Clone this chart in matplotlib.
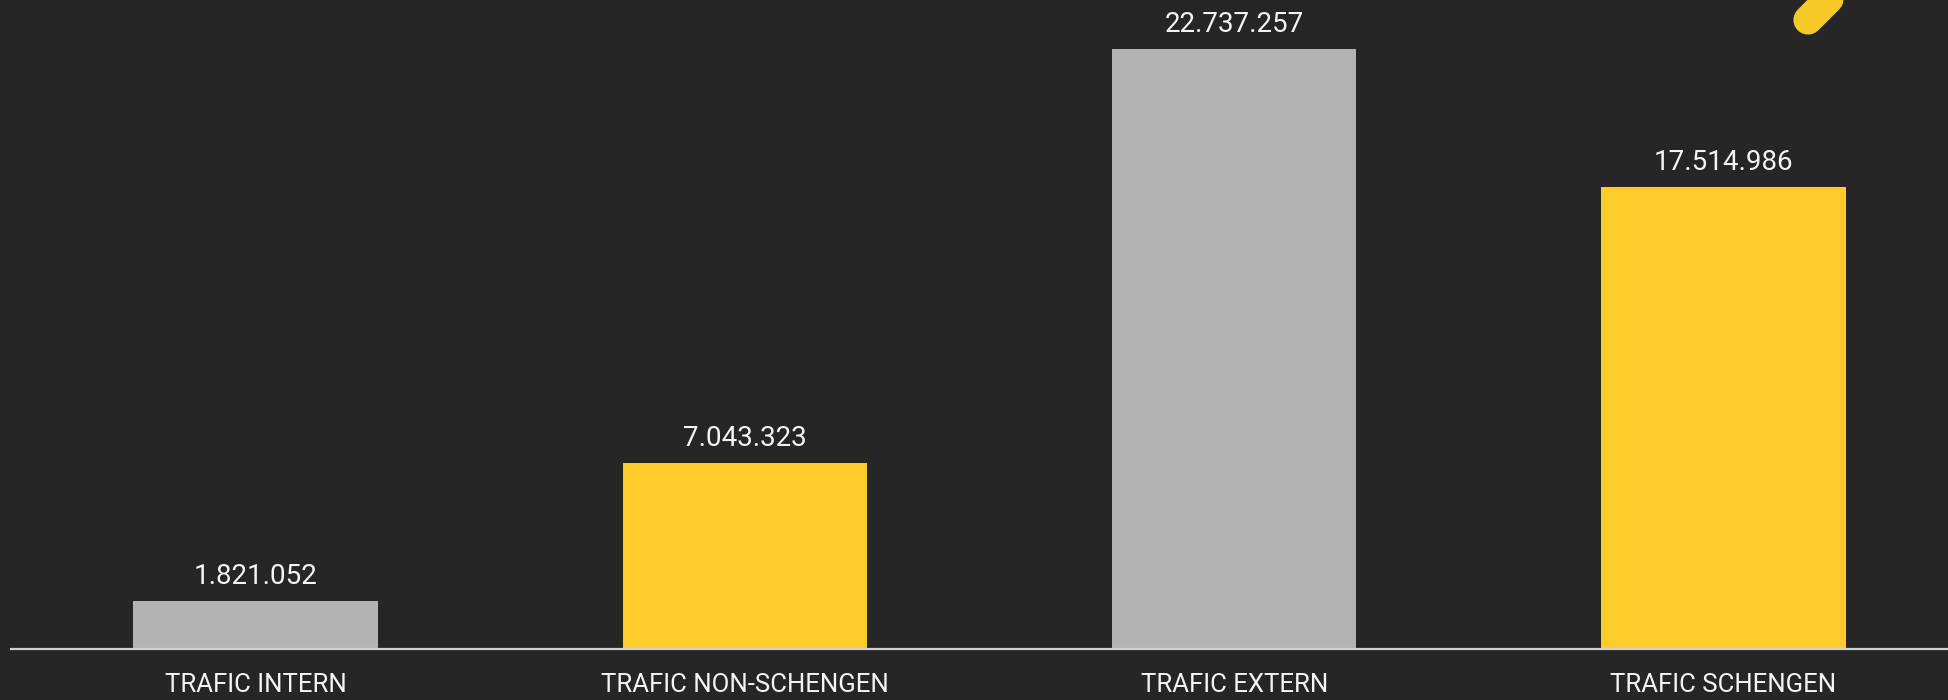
import matplotlib
matplotlib.use("Agg")
import matplotlib.pyplot as plt
from matplotlib.lines import Line2D

categories = ["TRAFIC INTERN", "TRAFIC NON-SCHENGEN", "TRAFIC EXTERN", "TRAFIC SCHENGEN"]
values = [1821052, 7043323, 22737257, 17514986]
bar_colors = ["#b3b3b3", "#ffcb2b", "#b3b3b3", "#ffcb2b"]

bg = "#262626"
font = ["Roboto", "DejaVu Sans"]


def fmt(v):
    return f"{v:,}".replace(",", ".")


fig = plt.figure(figsize=(19.49, 7.0), dpi=100, facecolor=bg)
ax = fig.add_axes([11 / 1949, 51 / 700, 1938 / 1949, 649 / 700])
ax.set_facecolor(bg)

x = list(range(len(categories)))
bars = ax.bar(x, values, width=0.5, color=bar_colors, zorder=2)

ax.set_xlim(-0.5, 3.461)
ax.set_ylim(0, max(values) * 649 / 600)

for b, v in zip(bars, values):
    ax.annotate(fmt(v), (b.get_x() + b.get_width() / 2, v),
                xytext=(0, 12), textcoords="offset points",
                ha="center", va="baseline", color="#f4f4f4",
                fontsize=20, family=font)

ax.set_xticks(x)
ax.set_xticklabels(categories, family=font, fontsize=18.5, color="#f4f4f4")
ax.tick_params(axis="x", length=0, pad=17)
ax.set_yticks([])

for s in ["top", "right", "left"]:
    ax.spines[s].set_visible(False)
ax.spines["bottom"].set_color("#cfcfcf")
ax.spines["bottom"].set_linewidth(1.6)

# yellow decoration in the top-right corner
deco = Line2D([1808 / 1949, 1900 / 1949], [1 - 20 / 700, 1 + 72 / 700],
              transform=fig.transFigure, color="#f6ca26", linewidth=21,
              solid_capstyle="round")
fig.add_artist(deco)

fig.savefig("out.png", dpi=100, facecolor=bg)
